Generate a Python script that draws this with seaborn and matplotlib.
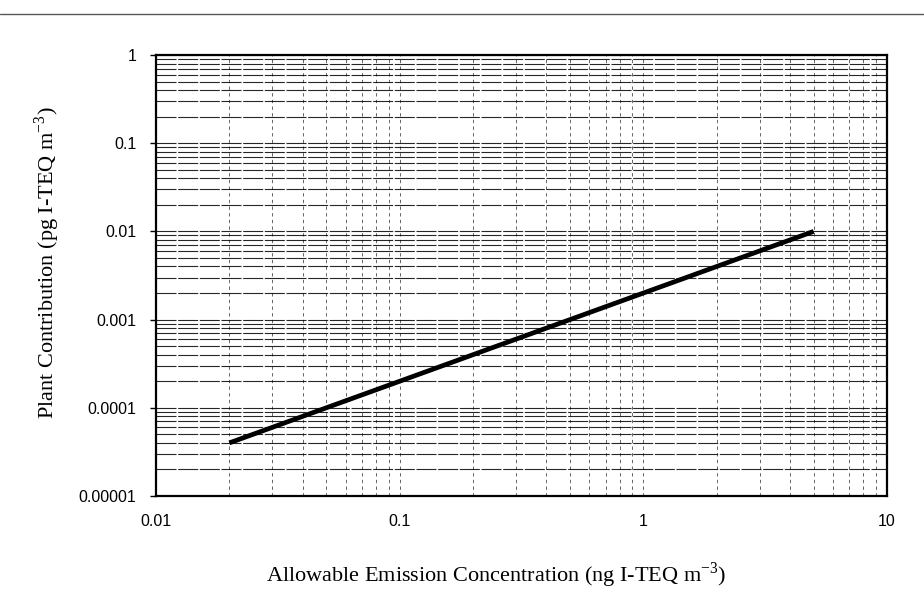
"""Plant contribution vs allowable emission concentration (log-log)."""
import matplotlib
matplotlib.use("Agg")
import matplotlib.pyplot as plt
from matplotlib.lines import Line2D
from matplotlib.ticker import FixedLocator, LogLocator, NullFormatter
import seaborn as sns
import numpy as np
import pandas as pd

# data
emission_conc = [0.02, 5.0]          # ng I-TEQ m-3
plant_contribution = [0.00004, 0.01]  # pg I-TEQ m-3

x_ticks = [0.01, 0.1, 1, 10]
x_tick_labels = ["0.01", "0.1", "1", "10"]
y_ticks = [0.00001, 0.0001, 0.001, 0.01, 0.1, 1]
y_tick_labels = ["0.00001", "0.0001", "0.001", "0.01", "0.1", "1"]

sns.set_theme(style="white")
plt.rcParams['font.family'] = ['Liberation Sans', 'DejaVu Sans']

df = pd.DataFrame({"conc": emission_conc, "contrib": plant_contribution})

fig = plt.figure(figsize=(9.24, 6.01), dpi=100)
ax = fig.add_axes([156 / 924, 1 - 496 / 601, (887 - 156) / 924, (496 - 55) / 601])

ax.set_xscale("log")
ax.set_yscale("log")
ax.set_xlim(0.01, 10)
ax.set_ylim(0.00001, 1)

# grid: major + minor lines, scanned-paper look
ax.xaxis.set_minor_locator(LogLocator(base=10, subs=np.arange(2, 10)))
ax.yaxis.set_minor_locator(LogLocator(base=10, subs=np.arange(2, 10)))
ax.xaxis.set_minor_formatter(NullFormatter())
ax.yaxis.set_minor_formatter(NullFormatter())
ax.grid(True, axis="y", which="both", color="black", linewidth=0.8,
        linestyle=(0, (18, 1.5)), alpha=0.85)
ax.grid(True, axis="x", which="both", color="black", linewidth=0.6,
        linestyle=(0, (4, 4)), alpha=0.7)
ax.set_axisbelow(True)

sns.lineplot(data=df, x="conc", y="contrib", ax=ax, color="black",
             linewidth=3.4, solid_capstyle="butt")

ax.xaxis.set_major_locator(FixedLocator(x_ticks))
ax.set_xticklabels(x_tick_labels)
ax.yaxis.set_major_locator(FixedLocator(y_ticks))
ax.set_yticklabels(y_tick_labels)
ax.tick_params(axis="x", which="both", length=0, pad=13, labelsize=11.5, colors="black")
ax.tick_params(axis="y", which="major", length=4, width=1, direction="out",
               left=True, pad=10, labelsize=11.5, colors="black")
ax.tick_params(axis="y", which="minor", length=0)

for side in ax.spines.values():
    side.set_color("black")
    side.set_linewidth(1.6)

serif = ['Liberation Serif', 'DejaVu Serif']
ax.set_xlabel(r"Allowable Emission Concentration (ng I-TEQ m$^{\mathregular{-3}}$)",
              family=serif, fontsize=16, color="black")
ax.xaxis.set_label_coords(0.465, -0.147)
ax.set_ylabel(r"Plant Contribution (pg I-TEQ m$^{\mathregular{-3}}$)",
              family=serif, fontsize=16, color="black")
ax.yaxis.set_label_coords(-0.128, 0.53)

# scanned page edge
fig.add_artist(Line2D([0, 1], [1 - 14 / 601, 1 - 14 / 601], color="0.35", linewidth=1))

fig.savefig("out.png", dpi=100)
